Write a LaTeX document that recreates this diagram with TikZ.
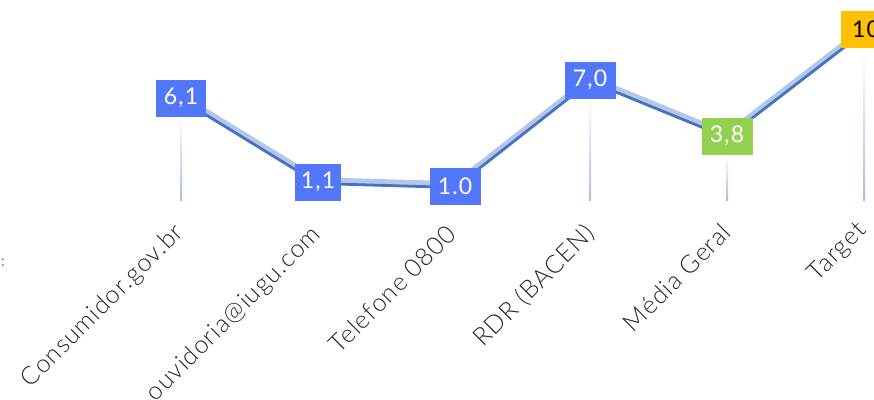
\documentclass[tikz,border=0pt]{standalone}
\usepackage{fontspec}
\setmainfont{Lato}
\newfontfamily\labelfont{Lato Light}[LetterSpace=4]
\newfontfamily\valfont{Lato}[LetterSpace=5]
\definecolor{boxblue}{HTML}{5377FB}
\definecolor{boxgreen}{HTML}{92D050}
\definecolor{boxgold}{HTML}{FFC000}
\definecolor{lineLight}{HTML}{B4C7E7}
\definecolor{lineDark}{HTML}{4472C4}
\definecolor{dropblue}{HTML}{A9BDE6}
\tikzset{
  valbox/.style={fill=boxblue, text=white, minimum width=50pt, minimum height=37pt, inner sep=0pt, font=\valfont\fontsize{23}{23}\selectfont},
  axislabel/.style={anchor=north east, rotate=45, inner sep=0pt, text=black!85, font=\labelfont\fontsize{25}{25}\selectfont},
  lightline/.style={draw=lineLight, line width=5.5pt, line join=round},
  darkline/.style={draw=lineDark, line width=2.8pt, line join=round},
}
\begin{document}
\begin{tikzpicture}[x=1pt,y=-1pt]
\useasboundingbox (0,0) rectangle (874,399);
\clip (0,0) rectangle (874,399);
\coordinate (p1) at (181,98);
\coordinate (p2) at (318,182);
\coordinate (p3) at (455,186);
\coordinate (p4) at (590,80);
\coordinate (p5) at (727,136);
\coordinate (p6) at (866,29);
% drop lines
\foreach \x/\t in {181/115, 318/190, 455/195, 590/98, 727/154, 864/47}{
  \shade[top color=white, bottom color=dropblue] (\x-1,\t) rectangle (\x+1,200);
}
% series lines
\draw[lightline] ([yshift=2pt]p1) -- ([yshift=2pt]p2) -- ([yshift=2pt]p3) -- ([yshift=2pt]p4) -- ([yshift=2pt]p5) -- ([yshift=2pt]p6);
\draw[darkline] ([yshift=-1.5pt]p1) -- ([yshift=-1.5pt]p2) -- ([yshift=-1.5pt]p3) -- ([yshift=-1.5pt]p4) -- ([yshift=-1.5pt]p5) -- ([yshift=-1.5pt]p6);
% value boxes
\node[valbox] (v1) at (p1) {6,1};
\node[valbox, minimum width=46pt] (v2) at (p2) {1,1};
\node[valbox, minimum width=51pt] (v3) at (p3) {1.0};
\node[valbox, minimum width=51pt] (v4) at (p4) {7,0};
\node[valbox, fill=boxgreen, minimum width=51pt] (v5) at (p5) {3,8};
\node[valbox, fill=boxgold, text=black] (v6) at (p6) {10};
% axis labels
\node[axislabel] (l1) at (172,221) {Consumidor.gov.br};
\node[axislabel] (l2) at (309,223) {ouvidoria@iugu.com};
\node[axislabel] (l3) at (445,223) {Telefone 0800};
\node[axislabel] (l4) at (583,221) {RDR (BACEN)};
\node[axislabel] (l5) at (720,221) {Média Geral};
\node[axislabel] (l6) at (855,219) {Target};
\node[text=gray, font=\fontsize{16}{16}\selectfont, inner sep=0pt] (colon) at (3,263) {:};
\end{tikzpicture}
\end{document}
